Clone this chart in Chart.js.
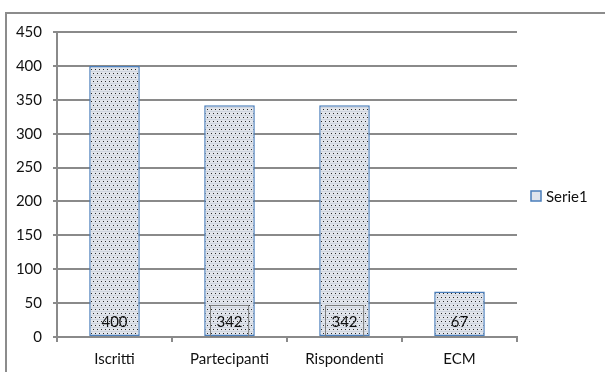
<!DOCTYPE html>
<html>
<head>
<meta charset="utf-8">
<script src="https://cdn.jsdelivr.net/npm/chart.js@4"></script>
<style>
  html, body { margin: 0; padding: 0; background: #ffffff; }
  #wrap { width: 605px; height: 372px; }
</style>
</head>
<body>
<div id="wrap"><canvas id="chart" width="605" height="372"></canvas></div>
<script>
// Categories and values
const categories = ['Iscritti', 'Partecipanti', 'Rispondenti', 'ECM'];
const serie1 = [400, 342, 342, 67];
const seriesName = 'Serie1';
const yTicks = { min: 0, max: 450, step: 50 };
const boxedLabels = [false, true, true, false];

const FONT = 'Lato, "Liberation Sans", sans-serif';
const GRID = '#8a8a8a';
const BAR_EDGE = '#4a7ebb';

// Dotted fill used for the bars
function dotPattern() {
  const c = document.createElement('canvas');
  c.width = 8; c.height = 8;
  const g = c.getContext('2d');
  g.fillStyle = '#e2e5eb';
  g.fillRect(0, 0, 8, 8);
  g.fillStyle = '#cfd5df';
  g.fillRect(0, 3, 8, 1);
  g.fillRect(0, 7, 8, 1);
  g.fillStyle = '#2b2b2b';
  g.fillRect(1, 1, 1, 1);
  g.fillRect(5, 1, 1, 1);
  g.fillRect(3, 5, 1, 1);
  g.fillRect(7, 5, 1, 1);
  const ctx = document.getElementById('chart').getContext('2d');
  return ctx.createPattern(c, 'repeat');
}

// Outer frame lines, value labels and legend
const decorations = {
  id: 'decorations',
  beforeDraw(chart) {
    const ctx = chart.ctx;
    ctx.save();
    ctx.strokeStyle = '#8c8c8c';
    ctx.lineWidth = 2;
    ctx.beginPath();
    ctx.moveTo(6, 372);
    ctx.lineTo(6, 13);
    ctx.lineTo(605, 13);
    ctx.stroke();
    ctx.restore();
  },
  afterDatasetsDraw(chart) {
    const ctx = chart.ctx;
    const meta = chart.getDatasetMeta(0);
    const data = chart.data.datasets[0].data;
    const base = chart.scales.y.getPixelForValue(0);
    ctx.save();
    ctx.font = '15px ' + FONT;
    ctx.fillStyle = '#111111';
    ctx.textAlign = 'center';
    ctx.textBaseline = 'middle';
    meta.data.forEach((bar, i) => {
      const y = base - 16;
      const txt = String(data[i]);
      if (boxedLabels[i]) {
        const w = ctx.measureText(txt).width + 12;
        ctx.strokeStyle = '#7f7f7f';
        ctx.lineWidth = 1;
        ctx.strokeRect(Math.round(bar.x - w / 2) + 0.5, y - 15.5, w, 31);
      }
      ctx.fillText(txt, bar.x, y + 1);
    });
    // legend entry
    const lx = 531, ly = 196;
    ctx.fillStyle = '#dfe4ec';
    ctx.fillRect(lx, ly - 5, 10, 10);
    ctx.strokeStyle = BAR_EDGE;
    ctx.lineWidth = 1.5;
    ctx.strokeRect(lx, ly - 5, 10, 10);
    ctx.fillStyle = '#111111';
    ctx.textAlign = 'left';
    ctx.font = '15px ' + FONT;
    ctx.fillText(chart.data.datasets[0].label, lx + 15, ly + 1);
    ctx.restore();
  }
};

new Chart(document.getElementById('chart'), {
  type: 'bar',
  data: {
    labels: categories,
    datasets: [{
      label: seriesName,
      data: serie1,
      backgroundColor: dotPattern(),
      borderColor: BAR_EDGE,
      borderWidth: 1.5,
      borderSkipped: false,
      barPercentage: 0.44,
      categoryPercentage: 1
    }]
  },
  options: {
    responsive: false,
    animation: false,
    layout: { padding: { left: 0, top: 32, right: 88, bottom: 0 } },
    plugins: { legend: { display: false }, tooltip: { enabled: false } },
    scales: {
      x: {
        offset: true,
        grid: { offset: true, drawOnChartArea: false, drawTicks: true, tickLength: 5, color: GRID, lineWidth: 2 },
        border: { color: GRID, width: 2 },
        ticks: { color: '#111111', font: { family: FONT, size: 15 }, padding: 8 },
        afterFit(s) { s.height = 35; }
      },
      y: {
        min: yTicks.min,
        max: yTicks.max,
        ticks: { stepSize: yTicks.step, color: '#111111', font: { family: FONT, size: 15 }, padding: 11 },
        grid: { color: GRID, lineWidth: 2, tickLength: 4 },
        border: { color: GRID, width: 2 },
        afterFit(s) { s.width = 57; }
      }
    }
  },
  plugins: [decorations]
});
</script>
</body>
</html>
